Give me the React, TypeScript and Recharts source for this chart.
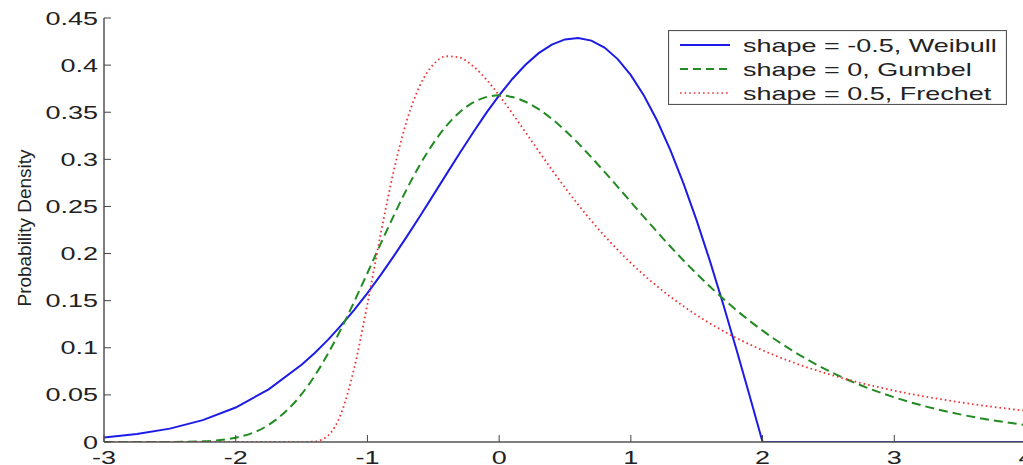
import React from "react";
import { LineChart, Line, XAxis, YAxis, Legend } from "recharts";

// sample points along x
const xValues = [
  -3, -2.75, -2.5, -2.25, -2, -1.75, -1.5, -1.4, -1.3, -1.2, -1.1, -1.0, -0.9, -0.8, -0.7,
  -0.6, -0.5, -0.4, -0.3, -0.2, -0.1, 0, 0.1, 0.2, 0.3, 0.4, 0.5, 0.6, 0.7, 0.8, 0.9, 1.0,
  1.1, 1.2, 1.3, 1.4, 1.5, 1.6, 1.7, 1.8, 1.9, 2.0, 2.25, 2.5, 2.75, 3.0, 3.25, 3.5, 3.75, 4.0,
];

const weibull = [
  0.0048, 0.0084, 0.0142, 0.0232, 0.0366, 0.0558, 0.0819, 0.0945, 0.1084, 0.1237, 0.1403,
  0.1581, 0.1771, 0.1972, 0.2182, 0.2399, 0.262, 0.2843, 0.3064, 0.328, 0.3487, 0.3679,
  0.3853, 0.4004, 0.4127, 0.4218, 0.4273, 0.4288, 0.426, 0.4186, 0.4064, 0.3894, 0.3675,
  0.3409, 0.3097, 0.2742, 0.2349, 0.1922, 0.1467, 0.099, 0.0499, 0, 0, 0, 0, 0, 0, 0, 0, 0,
];

const gumbel = [
  0, 0, 0.0001, 0.0007, 0.0046, 0.0182, 0.0507, 0.0703, 0.0936, 0.12, 0.149, 0.1794, 0.2102,
  0.2403, 0.2688, 0.2946, 0.317, 0.3356, 0.35, 0.3601, 0.366, 0.3679, 0.3661, 0.3611, 0.3532,
  0.3429, 0.3307, 0.317, 0.3022, 0.2867, 0.2708, 0.2547, 0.2386, 0.2229, 0.2075, 0.1927,
  0.1785, 0.165, 0.1522, 0.1401, 0.1288, 0.1182, 0.0949, 0.0756, 0.06, 0.0474, 0.0373,
  0.0293, 0.023, 0.018,
];

const frechet = [
  0, 0, 0, 0, 0, 0, 0, 0.0006, 0.0067, 0.0302, 0.0786, 0.1465, 0.2204, 0.2879, 0.3415,
  0.3788, 0.4006, 0.4094, 0.408, 0.3991, 0.3852, 0.3679, 0.3488, 0.3288, 0.3087, 0.289,
  0.27, 0.2519, 0.2348, 0.2188, 0.2039, 0.19, 0.1771, 0.1652, 0.1542, 0.144, 0.1346, 0.1259,
  0.1179, 0.1105, 0.1037, 0.0974, 0.0835, 0.0721, 0.0625, 0.0545, 0.0478, 0.0421, 0.0373,
  0.0331,
];

const xTicks = [-3, -2, -1, 0, 1, 2, 3, 4];
const yTicks = [0, 0.05, 0.1, 0.15, 0.2, 0.25, 0.3, 0.35, 0.4, 0.45];

const seriesNames = [
  "shape = -0.5, Weibull",
  "shape = 0, Gumbel",
  "shape = 0.5, Frechet",
];

const data = xValues.map((x, i) => ({
  x,
  weibull: weibull[i],
  gumbel: gumbel[i],
  frechet: frechet[i],
}));

const FONT = "'Liberation Sans', Arial, Helvetica, sans-serif";
const SX = 1.42; // the figure is stretched horizontally
const AXIS = "#555";
const TICK = "#444";
const TEXT = "#222";

const colors = ["#1c1ce6", "#228b22", "#f03232"];
const dashes = [undefined, "9 5", "1.6 3"];

const LeftTick = (props: any) => {
  const { x, y, payload } = props;
  return (
    <g>
      <line x1={x} x2={x + 7} y1={y} y2={y} stroke={TICK} strokeWidth={1} />
      <text
        transform={`translate(${x - 6},${y}) scale(${SX},1)`}
        textAnchor="end"
        dominantBaseline="central"
        fontFamily={FONT}
        fontSize={19}
        fill={TEXT}
      >
        {String(payload.value)}
      </text>
    </g>
  );
};

const BottomTick = (props: any) => {
  const { x, y, payload } = props;
  return (
    <g>
      <line x1={x} x2={x} y1={y - 7} y2={y} stroke={TICK} strokeWidth={1} />
      <text
        transform={`translate(${x},${y + 22}) scale(${SX},1)`}
        textAnchor="middle"
        fontFamily={FONT}
        fontSize={19}
        fill={TEXT}
      >
        {String(payload.value)}
      </text>
    </g>
  );
};

const TopTick = (props: any) => {
  const { x, y } = props;
  return <line x1={x} x2={x} y1={y} y2={y + 7} stroke={TICK} strokeWidth={1} />;
};

const RightTick = (props: any) => {
  const { x, y } = props;
  return <line x1={x - 7} x2={x} y1={y} y2={y} stroke={TICK} strokeWidth={1} />;
};

const YLabel = (props: any) => {
  const vb = props.viewBox || { y: 18, height: 424 };
  const cy = vb.y + vb.height / 2 - 2;
  return (
    <text
      transform={`translate(31,${cy}) rotate(-90)`}
      textAnchor="middle"
      fontFamily={FONT}
      fontSize={18}
      fill={TEXT}
      textLength={157}
      lengthAdjust="spacingAndGlyphs"
    >
      Probability Density
    </text>
  );
};

const LegendBox = () => {
  const rows = [15, 39, 63];
  return (
    <svg width={339} height={75} style={{ display: "block" }}>
      <rect x={0.5} y={0.5} width={338} height={74} fill="#fff" stroke={AXIS} strokeWidth={1.2} />
      {seriesNames.map((name, i) => (
        <g key={name}>
          <line
            x1={12}
            x2={62}
            y1={rows[i]}
            y2={rows[i]}
            stroke={colors[i]}
            strokeWidth={i === 2 ? 1.6 : 2}
            strokeDasharray={i === 1 ? "8 5" : dashes[i]}
          />
          <text
            transform={`translate(75,${rows[i]}) scale(${SX},1)`}
            dominantBaseline="central"
            fontFamily={FONT}
            fontSize={19}
            fill={TEXT}
          >
            {name}
          </text>
        </g>
      ))}
    </svg>
  );
};

export default function App() {
  return (
    <div
      style={{
        position: "absolute",
        left: 0,
        top: 0,
        width: 1023,
        height: 465,
        overflow: "hidden",
        background: "#fff",
      }}
    >
      <LineChart
        width={1040}
        height={465}
        data={data}
        margin={{ top: 18, right: 14, bottom: 0, left: 0 }}
      >
        <XAxis
          xAxisId="bottom"
          type="number"
          dataKey="x"
          domain={[-3, 4]}
          ticks={xTicks}
          allowDataOverflow
          height={23}
          tickSize={0}
          tickMargin={0}
          tickLine={false}
          axisLine={{ stroke: AXIS, strokeWidth: 1.5 }}
          tick={<BottomTick />}
          interval={0}
        />
        <XAxis
          xAxisId="top"
          orientation="top"
          type="number"
          dataKey="x"
          domain={[-3, 4]}
          ticks={xTicks}
          allowDataOverflow
          height={0}
          tickSize={0}
          tickMargin={0}
          tickLine={false}
          axisLine={{ stroke: AXIS, strokeWidth: 1.5 }}
          tick={<TopTick />}
          interval={0}
        />
        <YAxis
          yAxisId="left"
          type="number"
          domain={[0, 0.45]}
          ticks={yTicks}
          allowDataOverflow
          width={104}
          tickSize={0}
          tickMargin={0}
          tickLine={false}
          axisLine={{ stroke: AXIS, strokeWidth: 1.5 }}
          tick={<LeftTick />}
          interval={0}
          label={<YLabel />}
        />
        <YAxis
          yAxisId="right"
          orientation="right"
          type="number"
          domain={[0, 0.45]}
          ticks={yTicks}
          allowDataOverflow
          width={0}
          tickSize={0}
          tickMargin={0}
          tickLine={false}
          axisLine={{ stroke: AXIS, strokeWidth: 1.5 }}
          tick={<RightTick />}
          interval={0}
        />
        <Legend
          layout="horizontal"
          verticalAlign="middle"
          align="center"
          content={<LegendBox />}
          wrapperStyle={{ position: "absolute", left: 668, top: 30, width: 339, height: 75 }}
        />
        <Line
          xAxisId="top"
          yAxisId="right"
          dataKey="gumbel"
          stroke="none"
          dot={false}
          legendType="none"
          isAnimationActive={false}
        />
        <Line
          xAxisId="bottom"
          yAxisId="left"
          type="linear"
          dataKey="weibull"
          name={seriesNames[0]}
          stroke={colors[0]}
          strokeWidth={2}
          dot={false}
          isAnimationActive={false}
        />
        <Line
          xAxisId="bottom"
          yAxisId="left"
          type="monotone"
          dataKey="gumbel"
          name={seriesNames[1]}
          stroke={colors[1]}
          strokeWidth={2}
          strokeDasharray={dashes[1]}
          dot={false}
          isAnimationActive={false}
        />
        <Line
          xAxisId="bottom"
          yAxisId="left"
          type="monotone"
          dataKey="frechet"
          name={seriesNames[2]}
          stroke={colors[2]}
          strokeWidth={1.8}
          strokeDasharray={dashes[2]}
          dot={false}
          isAnimationActive={false}
        />
      </LineChart>
    </div>
  );
}
